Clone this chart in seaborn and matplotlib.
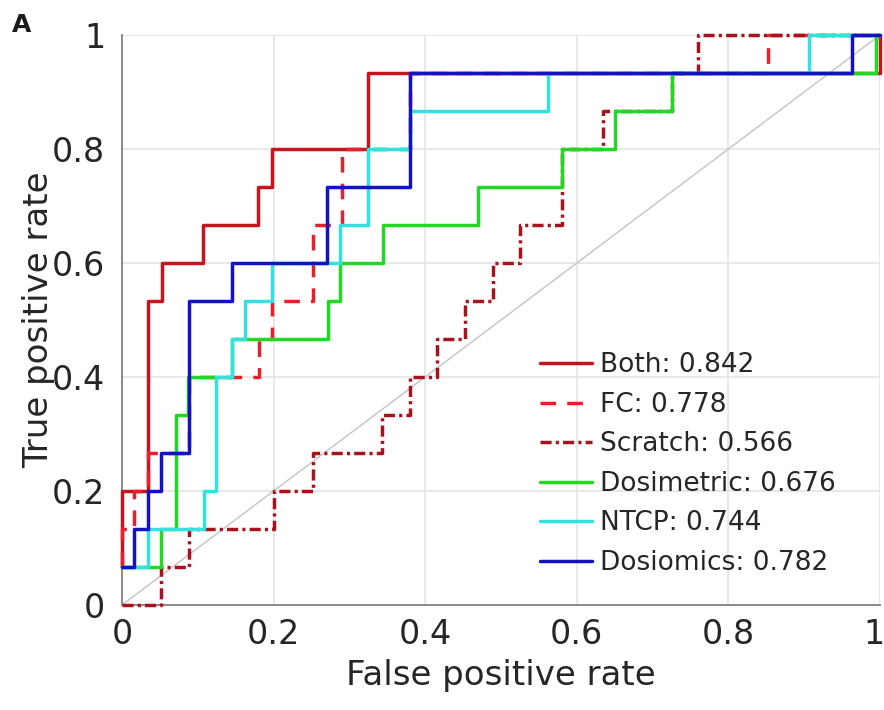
import matplotlib
matplotlib.use("Agg")
import matplotlib.pyplot as plt
from matplotlib.transforms import ScaledTranslation
import pandas as pd
import seaborn as sns

# ROC curves (step vertices) for each classifier, with their AUC
models = ["Both", "FC", "Scratch", "Dosimetric", "NTCP", "Dosiomics"]
auc = [0.842, 0.778, 0.566, 0.676, 0.744, 0.782]

both_fpr = [0.0, 0.0, 0.034, 0.034, 0.053, 0.053, 0.107, 0.107, 0.180, 0.180,
            0.198, 0.198, 0.325, 0.325, 1.0, 1.0]
both_tpr = [0.067, 0.200, 0.200, 0.533, 0.533, 0.600, 0.600, 0.667, 0.667, 0.733,
            0.733, 0.800, 0.800, 0.933, 0.933, 1.0]

fc_fpr = [0.0, 0.0, 0.016, 0.016, 0.034, 0.034, 0.088, 0.088, 0.181, 0.181,
          0.198, 0.198, 0.252, 0.252, 0.290, 0.290, 0.380, 0.380, 0.852, 0.852, 1.0]
fc_tpr = [0.067, 0.133, 0.133, 0.200, 0.200, 0.267, 0.267, 0.400, 0.400, 0.467,
          0.467, 0.533, 0.533, 0.667, 0.667, 0.800, 0.800, 0.933, 0.933, 1.0, 1.0]

scratch_fpr = [0.0, 0.051, 0.051, 0.088, 0.088, 0.200, 0.200, 0.252, 0.252, 0.343,
               0.343, 0.380, 0.380, 0.415, 0.415, 0.452, 0.452, 0.489, 0.489, 0.525,
               0.525, 0.580, 0.580, 0.635, 0.635, 0.726, 0.726, 0.760, 0.760, 1.0]
scratch_tpr = [0.0, 0.0, 0.067, 0.067, 0.133, 0.133, 0.200, 0.200, 0.267, 0.267,
               0.333, 0.333, 0.400, 0.400, 0.467, 0.467, 0.533, 0.533, 0.600, 0.600,
               0.667, 0.667, 0.800, 0.800, 0.867, 0.867, 0.933, 0.933, 1.0, 1.0]

dosimetric_fpr = [0.0, 0.052, 0.052, 0.071, 0.071, 0.087, 0.087, 0.145, 0.145, 0.272,
                  0.272, 0.288, 0.288, 0.344, 0.344, 0.470, 0.470, 0.580, 0.580, 0.650,
                  0.650, 0.726, 0.726, 0.995, 0.995]
dosimetric_tpr = [0.067, 0.067, 0.133, 0.133, 0.333, 0.333, 0.400, 0.400, 0.467, 0.467,
                  0.533, 0.533, 0.600, 0.600, 0.667, 0.667, 0.733, 0.733, 0.800, 0.800,
                  0.867, 0.867, 0.933, 0.933, 1.0]

ntcp_fpr = [0.0, 0.034, 0.034, 0.108, 0.108, 0.124, 0.124, 0.145, 0.145, 0.162,
            0.162, 0.198, 0.198, 0.288, 0.288, 0.325, 0.325, 0.380, 0.380, 0.562,
            0.562, 0.906, 0.906, 1.0]
ntcp_tpr = [0.067, 0.067, 0.133, 0.133, 0.200, 0.200, 0.400, 0.400, 0.467, 0.467,
            0.533, 0.533, 0.600, 0.600, 0.667, 0.667, 0.800, 0.800, 0.867, 0.867,
            0.933, 0.933, 1.0, 1.0]

dosiomics_fpr = [0.0, 0.016, 0.016, 0.034, 0.034, 0.051, 0.051, 0.088, 0.088, 0.145,
                 0.145, 0.270, 0.270, 0.380, 0.380, 0.963, 0.963, 1.0]
dosiomics_tpr = [0.067, 0.067, 0.133, 0.133, 0.200, 0.200, 0.267, 0.267, 0.533, 0.533,
                 0.600, 0.600, 0.733, 0.733, 0.933, 0.933, 1.0, 1.0]

tick_values = [0, 0.2, 0.4, 0.6, 0.8, 1]
tick_labels = ["0", "0.2", "0.4", "0.6", "0.8", "1"]

fprs = [both_fpr, fc_fpr, scratch_fpr, dosimetric_fpr, ntcp_fpr, dosiomics_fpr]
tprs = [both_tpr, fc_tpr, scratch_tpr, dosimetric_tpr, ntcp_tpr, dosiomics_tpr]

df = pd.concat(
    [pd.DataFrame({"model": m, "fpr": f, "tpr": t}) for m, f, t in zip(models, fprs, tprs)],
    ignore_index=True,
)

palette = {
    "Both": "#c8141e",
    "FC": "#e8202c",
    "Scratch": "#a8121c",
    "Dosimetric": "#22d822",
    "NTCP": "#34e0e0",
    "Dosiomics": "#1212c4",
}
dash_map = {
    "Both": "",
    "FC": (4.5, 3.2),
    "Scratch": (3.2, 1.2, 0.9, 1.2),
    "Dosimetric": "",
    "NTCP": "",
    "Dosiomics": "",
}

sns.set_theme(style="white")
plt.rcParams["font.family"] = ["DejaVu Sans"]

fig = plt.figure(figsize=(8.84, 7.10), dpi=100)
ax = fig.add_axes([122 / 884, 105 / 710, 758 / 884, 570 / 710])

# chance line
ax.plot([0, 1], [0, 1], color="#c4c4c4", lw=1.0, zorder=1)

sns.lineplot(
    data=df, x="fpr", y="tpr", hue="model", style="model",
    hue_order=models, style_order=models, palette=palette, dashes=dash_map,
    sort=False, estimator=None, lw=2.5, legend=False, ax=ax, zorder=3,
)
roc_lines = ax.get_lines()[1:]
for ln in roc_lines:
    ln.set_clip_on(False)

ax.set_xlim(0, 1)
ax.set_ylim(0, 1)
ax.set_xticks(tick_values)
ax.set_xticklabels(tick_labels)
ax.set_yticks(tick_values)
ax.set_yticklabels(tick_labels)
ax.grid(True, color="#e4e4e4", lw=1.2)
ax.set_axisbelow(True)

for side in ["top", "right"]:
    ax.spines[side].set_visible(False)
for side in ["left", "bottom"]:
    ax.spines[side].set_color("#8a8a8a")
    ax.spines[side].set_linewidth(1.4)
    ax.spines[side].set_zorder(2)

ax.tick_params(axis="both", direction="in", length=5, width=1.2, color="#8a8a8a",
               labelcolor="#262626", labelsize=24)
ax.tick_params(axis="x", pad=9)
ax.tick_params(axis="y", pad=12)

# keep the last x tick label inside the canvas
last = ax.get_xticklabels()[-1]
last.set_transform(last.get_transform() + ScaledTranslation(-6 / 100, 0, fig.dpi_scale_trans))

ax.set_xlabel("False positive rate", fontsize=24.5, color="#262626")
ax.xaxis.label.set_va("top")
ax.xaxis.set_label_coords(0.5, (605 - 659) / 570)
ax.set_ylabel("True positive rate", fontsize=24.5, color="#262626")
ax.yaxis.set_label_coords((55 - 122) / 758, 0.5)

labels = [f"{m}: {a:.3f}" for m, a in zip(models, auc)]
ax.legend(roc_lines, labels, loc="upper left", bbox_to_anchor=(0.5515, 0.443),
          frameon=False, fontsize=19, handlelength=1.97, handletextpad=0.3,
          labelspacing=0.51, borderaxespad=0, borderpad=0)

fig.text(12 / 884, 1 - 13 / 710, "A", fontweight="bold", fontsize=18, va="top",
         color="#1a1a1a")

fig.savefig("out.png", dpi=100)
